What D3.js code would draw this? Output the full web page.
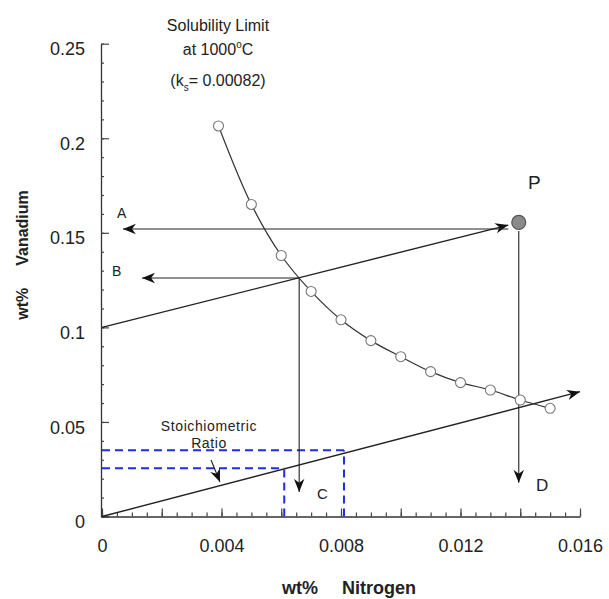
<!DOCTYPE html>
<html>
<head>
<meta charset="utf-8">
<script src="https://cdn.jsdelivr.net/npm/d3@7"></script>
<style>
  body { margin: 0; background: #fff; }
  svg { font-family: "Liberation Sans", Arial, sans-serif; }
</style>
</head>
<body>
<div id="chart"></div>
<script>
// solubility curve points (wt% N, wt% V)
var nitrogen = [0.0039, 0.005, 0.006, 0.007, 0.008, 0.009, 0.010, 0.011, 0.012, 0.013, 0.014, 0.015];
var vanadium = [0.2065, 0.165, 0.138, 0.119, 0.104, 0.093, 0.0845, 0.0766, 0.0708, 0.0669, 0.0616, 0.0572];

// point P and where the P line meets the curve
var pointP = [0.01395, 0.1555];
var crossPt = [0.0066, 0.1261];

// stoichiometric line and the blue guide lines
var stoichN = [0, 0.016];
var stoichV = [0, 0.066];
var dashN = [0.0061, 0.0081];
var dashV = [0.0255, 0.035];

var yTicks = [0, 0.05, 0.1, 0.15, 0.2, 0.25];
var yLabels = ["0", "0.05", "0.1", "0.15", "0.2", "0.25"];
var xTicks = [0, 0.002, 0.004, 0.006, 0.008, 0.010, 0.012, 0.014, 0.016];
var xLabels = ["0", "", "0.004", "", "0.008", "", "0.012", "", "0.016"];

var width = 609, height = 599;

var svg = d3.select("#chart").append("svg")
  .attr("width", width).attr("height", height);

var x = d3.scaleLinear().domain([0, 0.016]).range([102, 580]);
var y = d3.scaleLinear().domain([0, 0.25]).range([516.5, 43.7]);

// arrow head
svg.append("defs").append("marker")
  .attr("id", "arr")
  .attr("viewBox", "0 -5 10 10")
  .attr("refX", 10).attr("refY", 0)
  .attr("markerUnits", "userSpaceOnUse")
  .attr("markerWidth", 13).attr("markerHeight", 13)
  .attr("orient", "auto")
  .append("path")
  .attr("d", "M0,-4 L10,0 L0,4 L3,0 Z")
  .attr("fill", "#111");

// axes
var yAxis = svg.append("g").attr("transform", "translate(101,0)")
  .call(d3.axisLeft(y).tickValues(yTicks)
    .tickFormat(function (d, i) { return yLabels[i]; })
    .tickSizeInner(-8).tickSizeOuter(0).tickPadding(16));
svg.append("g").attr("transform", "translate(101,0)")
  .call(d3.axisLeft(y).tickValues(d3.range(0, 26).map(function (i) { return i / 100; }))
    .tickFormat("").tickSizeInner(-3).tickSizeOuter(0))
  .select(".domain").remove();

var xAxis = svg.append("g").attr("transform", "translate(0,516.5)")
  .call(d3.axisBottom(x).tickValues(xTicks)
    .tickFormat(function (d, i) { return xLabels[i]; })
    .tickSizeInner(-8).tickSizeOuter(0).tickPadding(23));
svg.append("g").attr("transform", "translate(0,516.5)")
  .call(d3.axisBottom(x).tickValues(d3.range(0, 33).map(function (i) { return i * 0.0005; }))
    .tickFormat("").tickSizeInner(-4).tickSizeOuter(0))
  .select(".domain").remove();

svg.selectAll(".domain").attr("stroke", "#333").attr("stroke-width", 1.3);
svg.selectAll(".tick line").attr("stroke", "#444").attr("stroke-width", 1.2);
svg.selectAll(".tick text")
  .attr("font-size", 18).attr("fill", "#222")
  .attr("font-family", "Liberation Sans, Arial, sans-serif");
yAxis.selectAll(".tick text").attr("dy", "0.62em");

// axis titles
var yt = svg.append("text")
  .attr("transform", "translate(28,255) rotate(-90)")
  .attr("text-anchor", "middle")
  .attr("font-size", 16).attr("font-weight", "bold").attr("fill", "#222");
yt.append("tspan").text("wt%");
yt.append("tspan").attr("dx", 22).text("Vanadium");

svg.append("text").attr("x", 282).attr("y", 594)
  .attr("font-size", 18).attr("font-weight", "bold").attr("fill", "#222").text("wt%");
svg.append("text").attr("x", 342).attr("y", 594)
  .attr("font-size", 18).attr("font-weight", "bold").attr("fill", "#222").text("Nitrogen");

// title block
var title = svg.append("g").attr("fill", "#222").attr("text-anchor", "middle").attr("font-size", 16);
title.append("text").attr("x", 218).attr("y", 31).text("Solubility Limit");
var t2 = title.append("text").attr("x", 218).attr("y", 55);
t2.append("tspan").text("at 1000");
t2.append("tspan").attr("font-size", 10).attr("dy", -7).text("o");
t2.append("tspan").attr("dy", 7).text("C");
var t3 = title.append("text").attr("x", 218).attr("y", 86);
t3.append("tspan").text("(k");
t3.append("tspan").attr("font-size", 10).attr("dy", 5).text("s");
t3.append("tspan").attr("dy", -5).text("= 0.00082)");

// blue dashed guides
var blue = svg.append("g").attr("stroke", "#1f2de8").attr("stroke-width", 2)
  .attr("stroke-dasharray", "8,5").attr("fill", "none");
dashN.forEach(function (n, i) {
  blue.append("line").attr("x1", x(0)).attr("y1", y(dashV[i]))
    .attr("x2", x(n)).attr("y2", y(dashV[i]));
  blue.append("line").attr("x1", x(n)).attr("y1", y(0))
    .attr("x2", x(n)).attr("y2", y(dashV[i]));
});

// straight arrows
var arrows = [
  { n: [stoichN[0], stoichN[1]], v: [stoichV[0], stoichV[1]], w: 1.4 },
  { n: [0, 0.0136], v: [0.1, 0.1541], w: 1.4 },
  { n: [0.0136, 0.0007], v: [0.152, 0.152], w: 1.1 },
  { n: [crossPt[0], 0.00134], v: [crossPt[1], crossPt[1]], w: 1.1 },
  { n: [crossPt[0], crossPt[0]], v: [crossPt[1], 0.013], w: 1.1 },
  { n: [pointP[0], pointP[0]], v: [0.151, 0.0178], w: 1.1 },
  { n: [0.00365, 0.00395], v: [0.0299, 0.0182], w: 1.1 }
];
svg.append("g").selectAll("line").data(arrows).enter().append("line")
  .attr("x1", function (d) { return x(d.n[0]); })
  .attr("y1", function (d) { return y(d.v[0]); })
  .attr("x2", function (d) { return x(d.n[1]); })
  .attr("y2", function (d) { return y(d.v[1]); })
  .attr("stroke", "#222")
  .attr("stroke-width", function (d) { return d.w; })
  .attr("marker-end", "url(#arr)");

// solubility curve
var pts = nitrogen.map(function (n, i) { return [n, vanadium[i]]; });
svg.append("path").datum(pts)
  .attr("d", d3.line().x(function (d) { return x(d[0]); }).y(function (d) { return y(d[1]); })
    .curve(d3.curveCatmullRom))
  .attr("fill", "none").attr("stroke", "#333").attr("stroke-width", 1.2);
svg.append("g").selectAll("circle").data(pts).enter().append("circle")
  .attr("cx", function (d) { return x(d[0]); })
  .attr("cy", function (d) { return y(d[1]); })
  .attr("r", 5)
  .attr("fill", "#fff").attr("stroke", "#777").attr("stroke-width", 1.1);

// point P
svg.append("circle").attr("cx", x(pointP[0])).attr("cy", y(pointP[1]))
  .attr("r", 7).attr("fill", "#8a8a8a").attr("stroke", "#555").attr("stroke-width", 1.2);

// letters
var labels = [
  { t: "P", x: 528, y: 189, s: 19 },
  { t: "A", x: 117, y: 218, s: 14 },
  { t: "B", x: 112, y: 276, s: 14 },
  { t: "C", x: 317, y: 499, s: 15 },
  { t: "D", x: 536, y: 491, s: 17 }
];
svg.append("g").selectAll("text").data(labels).enter().append("text")
  .attr("x", function (d) { return d.x; })
  .attr("y", function (d) { return d.y; })
  .attr("font-size", function (d) { return d.s; })
  .attr("fill", "#222")
  .text(function (d) { return d.t; });

svg.append("text").attr("x", 209).attr("y", 431).attr("text-anchor", "middle")
  .attr("font-size", 14).attr("letter-spacing", 0.6).attr("fill", "#222").text("Stoichiometric");
svg.append("text").attr("x", 209).attr("y", 448).attr("text-anchor", "middle")
  .attr("font-size", 14).attr("letter-spacing", 0.6).attr("fill", "#222").text("Ratio");
</script>
</body>
</html>
